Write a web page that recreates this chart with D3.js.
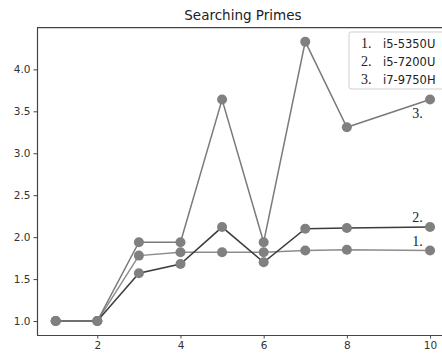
<!DOCTYPE html>
<html>
<head>
<meta charset="utf-8">
<script src="https://cdn.jsdelivr.net/npm/d3@7"></script>
<style>
  html, body { margin: 0; padding: 0; background: #fff; }
  svg { display: block; }
</style>
</head>
<body>
<svg id="chart" width="442" height="354"></svg>
<script>
// Speed-up ratios by thread count for three CPUs
const threads = [1, 2, 3, 4, 5, 6, 7, 8, 10];
const i5_5350U = [1.0, 1.0, 1.78, 1.82, 1.82, 1.82, 1.84, 1.85, 1.84];
const i5_7200U = [1.0, 1.0, 1.57, 1.68, 2.12, 1.70, 2.10, 2.11, 2.12];
const i7_9750H = [1.0, 1.0, 1.94, 1.94, 3.64, 1.94, 4.33, 3.31, 3.64];
const seriesNames = ["i5-5350U", "i5-7200U", "i7-9750H"];
const seriesMarks = ["1.", "2.", "3."];
const xTicks = [2, 4, 6, 8, 10];
const yTicks = [1.0, 1.5, 2.0, 2.5, 3.0, 3.5, 4.0];
// End-of-line tags: [x, y] in data units
const tagPos = [[9.7, 1.90], [9.7, 2.18], [9.7, 3.42]];

const series = [i5_5350U, i5_7200U, i7_9750H];
const lineColors = ["#8c8c8c", "#3c3c3c", "#7a7a7a"];
const markerColor = "#808080";

const svg = d3.select("#chart");
const plotL = 37, plotR = 448.75, plotT = 27.7, plotB = 335;

const x = d3.scaleLinear().domain([0.55, 10.45]).range([plotL, plotR]);
const y = d3.scaleLinear().domain([0.8335, 4.4965]).range([plotB, plotT]);

// Title
svg.append("text")
  .attr("x", (plotL + plotR) / 2).attr("y", 20)
  .attr("text-anchor", "middle")
  .attr("font-family", "DejaVu Sans").attr("font-size", 13.5)
  .attr("fill", "#222")
  .text("Searching Primes");

// Axes
const xAxis = svg.append("g").attr("transform", `translate(0,${plotB})`)
  .call(d3.axisBottom(x).tickValues(xTicks).tickFormat(d3.format("d")).tickSize(3.5).tickPadding(3));
const yAxis = svg.append("g").attr("transform", `translate(${plotL},0)`)
  .call(d3.axisLeft(y).tickValues(yTicks).tickFormat(d3.format(".1f")).tickSize(3.5).tickPadding(3));
[xAxis, yAxis].forEach(g => {
  g.selectAll("text").attr("font-family", "DejaVu Sans").attr("font-size", 10.5).attr("fill", "#333");
  g.selectAll("line").attr("stroke", "#444").attr("stroke-width", 1);
  g.select(".domain").attr("stroke", "#444").attr("stroke-width", 1.2);
});
xAxis.select(".domain").attr("d", `M${plotL},0.5H${plotR}`);
yAxis.select(".domain").attr("d", `M0.5,${plotB}V${plotT}`);
// Top and right spines
svg.append("line").attr("x1", plotL).attr("x2", plotR).attr("y1", plotT).attr("y2", plotT)
  .attr("stroke", "#444").attr("stroke-width", 1.2);
svg.append("line").attr("x1", plotR).attr("x2", plotR).attr("y1", plotT).attr("y2", plotB)
  .attr("stroke", "#444").attr("stroke-width", 1.2);

// Series lines and markers
const line = d3.line().x((d, i) => x(threads[i])).y(d => y(d));
series.forEach((vals, s) => {
  const g = svg.append("g");
  g.append("path").datum(vals)
    .attr("d", line).attr("fill", "none")
    .attr("stroke", lineColors[s]).attr("stroke-width", 1.5);
  g.selectAll("circle").data(vals).enter().append("circle")
    .attr("cx", (d, i) => x(threads[i])).attr("cy", d => y(d))
    .attr("r", 5).attr("fill", markerColor);
});

// End-of-line tags
tagPos.forEach((p, s) => {
  svg.append("text")
    .attr("x", x(p[0])).attr("y", y(p[1]))
    .attr("text-anchor", "middle")
    .attr("font-family", "Liberation Serif").attr("font-size", 14)
    .attr("fill", "#222")
    .text(seriesMarks[s]);
});

// Legend
const lg = svg.append("g").attr("transform", "translate(349,32)");
lg.append("rect").attr("x", 0).attr("y", 0).attr("width", 110).attr("height", 57)
  .attr("rx", 2).attr("fill", "#fff").attr("fill-opacity", 0.85)
  .attr("stroke", "#d0d0d0").attr("stroke-width", 1);
seriesNames.forEach((name, i) => {
  lg.append("text").attr("x", 12).attr("y", 16 + i * 18)
    .attr("font-family", "Liberation Serif").attr("font-size", 14).attr("fill", "#222")
    .text(seriesMarks[i]);
  lg.append("text").attr("x", 34).attr("y", 16 + i * 18)
    .attr("font-family", "DejaVu Sans").attr("font-size", 11.5).attr("fill", "#222")
    .text(name);
});
</script>
</body>
</html>
